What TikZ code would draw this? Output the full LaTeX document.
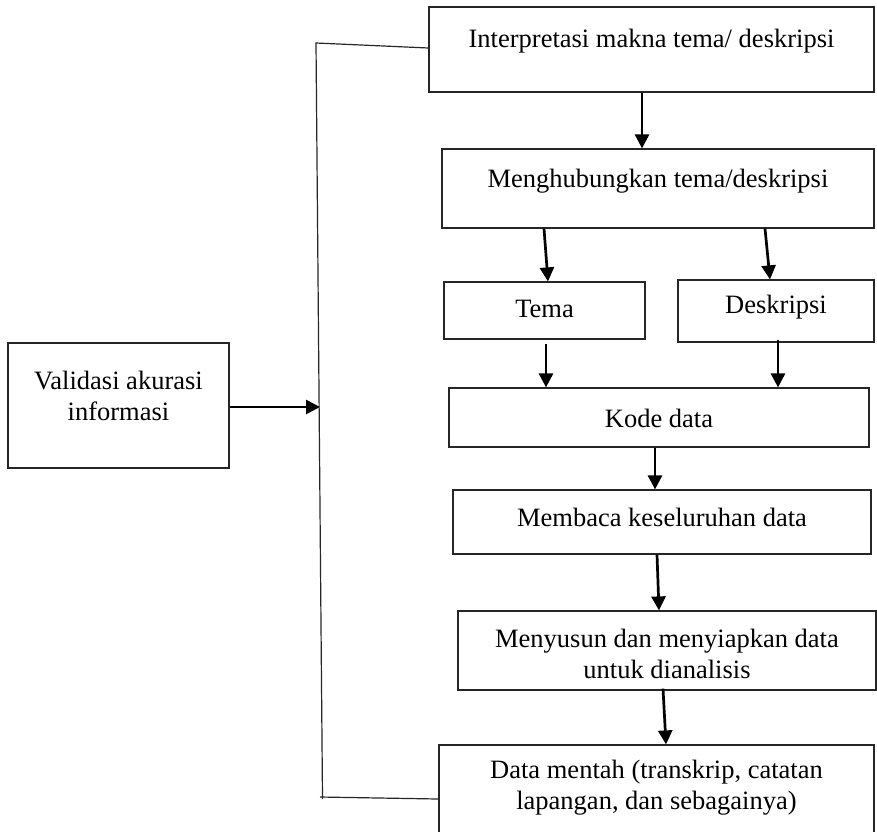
\documentclass[tikz,border=0pt]{standalone}
\usepackage{fontspec}
\setmainfont{Liberation Serif}
\usetikzlibrary{arrows.meta,calc}
\begin{document}
\begin{tikzpicture}[x=1pt,y=-1pt,
  boxnode/.style={draw=black!85,line width=1.2pt,inner sep=0pt,rectangle},
  txt/.style={inner sep=0pt,align=center,font=\fontsize{26.5}{31}\selectfont},
  arr/.style={line width=2.7pt,-{Triangle[width=14pt,length=14pt]}},
  thin/.style={line width=1.2pt,draw=black!85}]
\useasboundingbox (0,0) rectangle (877,831);
\clip (0,0) rectangle (877,831);
% boxes
\node[boxnode,minimum width=445pt,minimum height=85pt] (I) at (651.5,49.5) {};
\node[boxnode,minimum width=432pt,minimum height=79pt] (M) at (658,188.5) {};
\node[boxnode,minimum width=201pt,minimum height=57pt] (T) at (544.5,310.5) {};
\node[boxnode,minimum width=196pt,minimum height=62pt] (D) at (776,311) {};
\node[boxnode,minimum width=420pt,minimum height=59pt] (K) at (659,417.5) {};
\node[boxnode,minimum width=418pt,minimum height=64pt] (B) at (662,522) {};
\node[boxnode,minimum width=418pt,minimum height=79pt] (S) at (667,650.5) {};
\node[boxnode,minimum width=435pt,minimum height=95pt] (R) at (656.5,792.5) {};
\node[boxnode,minimum width=221pt,minimum height=125pt] (V) at (118.5,405.5) {};
% texts
\node[txt] (tI) at (651.5,41) {Interpretasi makna tema/ deskripsi};
\node[txt] (tM) at (658,181) {Menghubungkan tema/deskripsi};
\node[txt] (tT) at (544.5,309) {Tema};
\node[txt] (tD) at (776,307) {Deskripsi};
\node[txt] (tK) at (659,418) {Kode data};
\node[txt] (tB) at (662,517) {Membaca keseluruhan data};
\node[txt] (tS) at (667,654) {Menyusun dan menyiapkan data\\untuk dianalisis};
\node[txt] (tR) at (656.5,788) {Data mentah (transkrip, catatan\\lapangan, dan sebagainya)};
\node[txt] (tV) at (118.5,396) {Validasi akurasi\\informasi};
% arrows
\draw[arr] ([xshift=-9.5pt]I.south) -- ([xshift=-16pt]M.north);
\draw[arr] ([xshift=-114pt]M.south) -- ([xshift=3.5pt]T.north);
\draw[arr] ([xshift=107pt]M.south) -- ([xshift=-6pt]D.north);
\draw[arr] ([xshift=1.5pt,yshift=-4pt]T.south) -- ([xshift=-113pt]K.north);
\draw[arr] ([xshift=2pt,yshift=3pt]D.south) -- ([xshift=119pt]K.north);
\draw[arr] ([xshift=-4pt]K.south) -- ([xshift=-7pt]B.north);
\draw[arr] ([xshift=-5pt]B.south) -- ([xshift=-8pt]S.north);
\draw[arr] ([xshift=-4pt,yshift=2pt]S.south) -- ([xshift=9.5pt]R.north);
% bracket
\coordinate (c1) at (316,43);
\coordinate (c2) at (322.5,799);
\coordinate (c3) at (320,797);
\coordinate (va) at (320,407);
\draw[thin] ([yshift=1.5pt]I.west) -- (c1) -- (c2);
\draw[thin] (c3) -- ([yshift=-6.5pt]R.west);
\draw[arr] ([yshift=-1.5pt]V.east) -- (va);
\end{tikzpicture}
\end{document}
